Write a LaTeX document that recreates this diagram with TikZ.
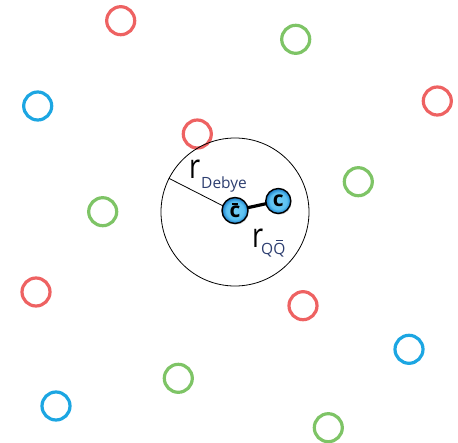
\documentclass[tikz,border=0pt]{standalone}
\usepackage{fontspec}
\setmainfont{Open Sans}
\usetikzlibrary{shadows}
\definecolor{ringred}{RGB}{238,98,98}
\definecolor{ringgreen}{RGB}{126,196,102}
\definecolor{ringblue}{RGB}{28,166,226}
\definecolor{subnavy}{RGB}{45,62,112}
% letter with a bar over it: #1 letter, #2 height of the bar
\newcommand\withbar[2]{\leavevmode\setbox0\hbox{#1}%
  \rlap{\hbox to\wd0{\hss\raisebox{#2}{\rule{0.62\wd0}{0.085em}}\hss}}\box0}
\pgfdeclareradialshading{quarkshade}{\pgfpoint{0bp}{0bp}}{%
  rgb(0bp)=(0.45,0.80,0.96);
  rgb(17bp)=(0.36,0.76,0.95);
  rgb(23bp)=(0.16,0.55,0.82);
  rgb(25bp)=(0.10,0.42,0.70);
  rgb(50bp)=(0.10,0.42,0.70)}
\tikzset{
  ring/.style={circle, draw=#1, line width=3.2pt, minimum size=28pt, inner sep=0pt},
  quark/.style={circle, draw=black, line width=1.4pt, shading=quarkshade, minimum size=26pt, inner sep=0pt,
    drop shadow={shadow xshift=0.8pt, shadow yshift=-1.2pt, opacity=0.35},
    font=\fontsize{21}{21}\selectfont\bfseries},
  bigr/.style={inner sep=0pt, anchor=base west, font=\fontsize{34}{34}\selectfont, xscale=0.8},
  sublabel/.style={inner sep=0pt, anchor=base west, text=subnavy, font=\fontsize{15.5}{15.5}\selectfont}
}
\begin{document}
\begin{tikzpicture}[x=1pt,y=-1pt]
  \useasboundingbox (0,0) rectangle (458,442);
  % surrounding medium particles
  \node[ring=ringred]   (p1)  at (120.7,20.7) {};
  \node[ring=ringblue]  (p2)  at (37.7,106) {};
  \node[ring=ringred]   (p3)  at (197.3,134) {};
  \node[ring=ringgreen] (p4)  at (102.7,211.7) {};
  \node[ring=ringgreen] (p5)  at (295.7,39.3) {};
  \node[ring=ringred]   (p6)  at (437.3,101) {};
  \node[ring=ringgreen] (p7)  at (358.3,181.7) {};
  \node[ring=ringred]   (p8)  at (36,292) {};
  \node[ring=ringgreen] (p9)  at (178.3,378.3) {};
  \node[ring=ringblue]  (p10) at (56,406) {};
  \node[ring=ringred]   (p11) at (303,305.7) {};
  \node[ring=ringblue]  (p12) at (409,349.3) {};
  \node[ring=ringgreen] (p13) at (328.3,427.7) {};
  % screening sphere with its radius
  \node[circle, draw=black, line width=0.8pt, minimum size=148pt, inner sep=0pt] (debye) at (235,212) {};
  \coordinate (rim) at (debye.153);
  \draw[line width=0.8pt] (debye.center) -- (rim);
  % the quark pair
  \draw[line width=3.2pt] (235,210.5) -- (278.3,201);
  \node[quark] (cbar) at (235,210.5) {\withbar{c}{0.62em}};
  \node[quark, minimum size=25pt] (cq) at (278.3,201) {c};
  % labels
  \node[bigr] (rD) at (189,178) {r};
  \node[sublabel] (sD) at (201,188.5) {Debye};
  \node[bigr] (rQ) at (252,247) {r};
  \node[sublabel] (sQ) at (261,254) {Q\withbar{Q}{0.84em}};
\end{tikzpicture}
\end{document}
